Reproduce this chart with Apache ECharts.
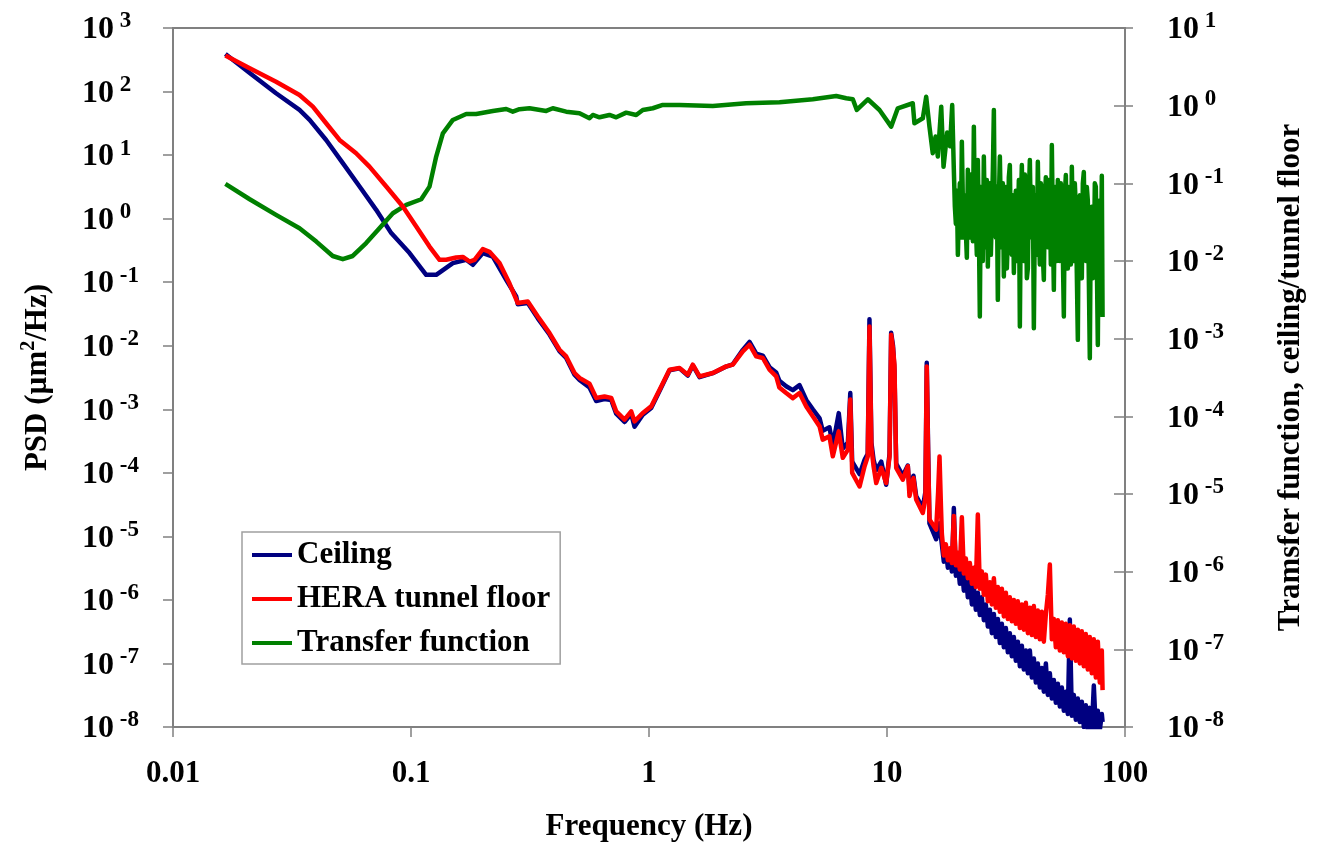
<!DOCTYPE html>
<html><head><meta charset="utf-8">
<script src="https://cdn.jsdelivr.net/npm/echarts@6/dist/echarts.min.js"></script>
<style>html,body{margin:0;padding:0;background:#fff}#c{width:1320px;height:843px}</style>
</head><body><div id="c"></div>
<script>
// ---------- DATA ----------
const ceilingFreq = [0.0166,0.0210,0.0271,0.0340,0.0375,0.0440,0.0517,0.0608,0.0714,0.0826,0.0986,0.1158,0.1276,0.1499,0.1706,0.1819,0.2003,0.2207,0.2512,0.2767,0.2810,0.3096,0.3411,0.3819,0.4206,0.4488,0.4864,0.5105,0.5623,0.5999,0.6501,0.6937,0.7281,0.7891,0.8419,0.8692,0.9417,1.0214,1.1254,1.2195,1.3433,1.4555,1.5276,1.6302,1.8537,2.1105,2.2494,2.4784,2.6446,2.8214,3.0079,3.2090,3.4237,3.53,3.77,4.02,4.29,4.58,4.88,5.21,5.37,5.73,5.92,6.27,6.52,6.85,7.01,7.14,7.67,8.05,8.30,8.44,8.60,8.78,9.01,9.46,9.92,10.25,10.41,10.60,10.75,10.93,11.65,12.23,12.43,12.92,13.26,14.14,14.50,14.69,14.90,15.08,16.09,16.62,
  17.0,17.33,17.67,18.02,18.37,18.73,19.09,19.47,19.85,20.23,20.63,21.03,21.44,21.86,22.29,22.73,23.17,23.62,24.08,24.55,25.03,25.52,26.02,26.53,27.05,27.58,28.12,28.66,29.22,29.80,30.38,30.97,31.58,32.19,32.82,33.46,34.12,34.78,35.46,36.16,36.86,37.58,38.32,39.07,39.83,40.61,41.40,42.21,43.03,43.87,44.73,45.60,46.50,47.40,48.33,49.27,50.24,51.22,52.22,53.24,54.28,55.34,56.42,57.52,58.64,59.79,60.95,62.14,63.36,64.60,65.86,67.14,68.46,69.79,71.15,72.54,73.96,75.41,76.88,78.38,79.91,80.5];
const ceilingPsd = [390,196,94,51.4,35.8,17.3,7.46,3.20,1.375,0.592,0.287,0.1307,0.1307,0.1997,0.225,0.1877,0.287,0.2535,0.109,0.0596,0.045,0.047,0.027,0.0150,0.0082,0.0064,0.0035,0.0029,0.0022,0.00135,0.00145,0.00140,8.5e-4,6.3e-4,8.5e-4,5.3e-4,8.2e-4,1.05e-3,2.2e-3,4.1e-3,4.4e-3,3.4e-3,4.9e-3,3.2e-3,3.7e-3,4.7e-3,5.1e-3,8.6e-3,1.15e-2,7.5e-3,7.0e-3,4.6e-3,3.8e-3,2.8e-3,2.3e-3,2.0e-3,2.4e-3,1.4e-3,1.0e-3,7.2e-4,4.6e-4,5.2e-4,2.7e-4,8.7e-4,2.4e-4,3.0e-4,1.8e-3,1.5e-4,9.5e-5,1.6e-4,2.0e-4,2.6e-2,3.0e-4,1.6e-4,1.1e-4,1.5e-4,6.5e-5,2.0e-4,1.6e-2,1.0e-2,4.0e-3,1.4e-4,9.0e-5,1.3e-4,5.5e-5,9.0e-5,4.3e-5,2.8e-5,5.0e-5,5.4e-3,2.0e-4,1.6e-5,9.0e-6,1.6e-5,
  7.5e-6,4.0e-6,6.0e-6,3.2e-6,5.5e-6,2.8e-6,2.8e-5,2.4e-6,3.8e-6,1.8e-6,3.2e-6,1.4e-6,2.6e-6,1.1e-6,2.0e-6,8.5e-7,1.6e-6,7.0e-7,1.3e-6,5.8e-7,1.1e-6,4.8e-7,8.5e-7,3.8e-7,7.0e-7,3.0e-7,6.0e-7,2.6e-7,5.0e-7,2.1e-7,4.2e-7,1.8e-7,3.6e-7,1.5e-7,3.0e-7,1.3e-7,2.6e-7,1.1e-7,2.2e-7,9.0e-8,1.9e-7,8.0e-8,1.6e-7,7.0e-8,1.6e-7,6.0e-8,1.2e-7,5.0e-8,1.0e-7,4.2e-8,8.5e-8,3.6e-8,1.0e-7,3.2e-8,7.0e-8,2.8e-8,5.5e-8,2.4e-8,4.8e-8,2.1e-8,4.2e-8,1.8e-8,3.6e-8,1.6e-8,4.9e-7,1.5e-8,3.2e-8,1.3e-8,2.8e-8,1.2e-8,2.5e-8,1.0e-8,2.2e-8,9.0e-9,2.0e-8,9.0e-9,4.5e-8,9.0e-9,1.8e-8,9.0e-9,1.6e-8,1.2e-8];

const floorFreq = [0.0166,0.0210,0.0271,0.0340,0.0387,0.0440,0.0501,0.0588,0.0669,0.0787,0.0924,0.1052,0.1196,0.1318,0.1406,0.1548,0.1651,0.1762,0.1849,0.2003,0.2137,0.2354,0.2594,0.2810,0.3096,0.3411,0.3819,0.4206,0.4488,0.4864,0.5105,0.5623,0.5999,0.6501,0.6937,0.7281,0.7891,0.8419,0.8692,0.9417,1.0214,1.1254,1.2195,1.3433,1.4555,1.5276,1.6302,1.8537,2.1105,2.2494,2.4784,2.6446,2.8214,3.0079,3.2090,3.4237,3.53,3.77,4.02,4.29,4.58,4.88,5.21,5.37,5.73,5.92,6.27,6.52,6.85,7.01,7.14,7.67,8.05,8.30,8.44,8.60,8.78,9.01,9.46,9.92,10.25,10.41,10.60,10.75,10.93,11.65,12.23,12.43,12.92,13.26,14.14,14.50,14.69,14.90,15.08,16.09,16.40,16.62,16.85,
  17.0,17.33,17.67,18.02,18.37,18.73,19.09,19.47,19.85,20.23,20.63,21.03,21.44,21.86,22.29,22.73,23.17,23.62,24.08,24.55,25.03,25.52,26.02,26.53,27.05,27.58,28.12,28.66,29.22,29.80,30.38,30.97,31.58,32.19,32.82,33.46,34.12,34.78,35.46,36.16,36.86,37.58,38.32,39.07,39.83,40.61,41.40,42.21,43.03,43.87,44.73,45.60,46.50,47.40,48.33,49.27,50.24,51.22,52.22,53.24,54.28,55.34,56.42,57.52,58.64,59.79,60.95,62.14,63.36,64.60,65.86,67.14,68.46,69.79,71.15,72.54,73.96,75.41,76.88,78.38,79.91,80.5];
const floorPsd = [370,232,143,88.4,57.9,31.7,17.3,10.7,6.59,3.20,1.55,0.751,0.364,0.225,0.225,0.245,0.25,0.2115,0.225,0.331,0.30,0.20,0.095,0.0469,0.0497,0.0289,0.01584,0.00865,0.00679,0.00372,0.00311,0.00253,0.00151,0.00159,0.00151,9.27e-4,6.86e-4,9.27e-4,6.45e-4,8.75e-4,1.11e-3,2.29e-3,4.19e-3,4.46e-3,3.50e-3,5.03e-3,3.29e-3,3.72e-3,4.73e-3,5.03e-3,8.14e-3,1.037e-2,6.79e-3,6.41e-3,4.19e-3,3.29e-3,2.2e-3,1.8e-3,1.5e-3,1.8e-3,1.11e-3,7.73e-4,5.38e-4,3.33e-4,3.75e-4,1.82e-4,4.49e-4,1.72e-4,2.32e-4,1.42e-3,1.0e-4,6.1e-5,1.27e-4,1.8e-4,2.0e-2,2.5e-4,1.27e-4,6.9e-5,1.2e-4,6.9e-5,1.8e-4,1.49e-2,9.0e-3,5.0e-3,1.2e-4,7.8e-5,1.27e-4,4.3e-5,8.3e-5,3.79e-5,2.34e-5,4.0e-5,4.7e-3,1.5e-4,1.84e-5,1.28e-5,5.0e-5,1.8e-4,3.0e-5,
  1.1e-5,5.0e-6,7.5e-6,4.2e-6,6.5e-6,3.8e-6,2.1e-5,3.5e-6,5.5e-6,3.0e-6,2.0e-5,2.6e-6,4.5e-6,2.2e-6,3.8e-6,1.8e-6,3.2e-6,1.6e-6,2.2e-5,1.5e-6,2.8e-6,1.2e-6,2.5e-6,9.5e-7,1.9e-6,8.5e-7,2.2e-6,7.5e-7,1.6e-6,6.5e-7,1.5e-6,5.5e-7,1.3e-6,5.0e-7,1.1e-6,4.6e-7,1.0e-6,4.2e-7,9.5e-7,3.6e-7,8.5e-7,3.4e-7,9.0e-7,3.0e-7,7.5e-7,2.8e-7,8.0e-7,2.6e-7,6.8e-7,2.4e-7,6.5e-7,2.2e-7,6.0e-7,1.2e-6,3.6e-6,2.4e-7,5.0e-7,1.8e-7,4.8e-7,1.6e-7,4.4e-7,1.5e-7,4.2e-7,1.3e-7,4.0e-7,1.2e-7,3.8e-7,1.1e-7,3.4e-7,1.0e-7,3.2e-7,9.0e-8,2.9e-7,8.0e-8,2.6e-7,7.0e-8,2.4e-7,6.0e-8,2.2e-7,5.0e-8,1.6e-7,3.8e-8];

const transferFreq = [0.0166,0.0210,0.0271,0.0340,0.0400,0.0469,0.0517,0.0569,0.0648,0.0737,0.0839,0.0955,0.1104,0.1196,0.1276,0.1361,0.1499,0.1706,0.1879,0.2207,0.2512,0.2678,0.2857,0.3147,0.3700,0.3942,0.4488,0.5105,0.5623,0.5806,0.6194,0.6823,0.7281,0.8021,0.8836,0.9417,1.0375,1.1429,1.3433,1.8537,2.5612,3.5344,4.8792,6.1188,6.7400,7.1844,7.4669,8.31,9.30,10.41,11.10,12.83,13.04,
  14.14,14.61,15.08,15.57,16.0,16.35,16.90,17.28,17.9,18.4,18.79,
  19.09,19.28,19.47,19.66,19.85,20.04,20.23,20.43,20.63,20.83,21.03,21.23,21.44,21.65,21.86,22.07,22.29,22.51,22.73,22.95,
  23.17,23.39,23.62,23.85,24.08,24.31,24.55,24.79,25.03,25.27,25.52,25.77,26.02,26.27,26.53,26.79,27.05,27.31,27.58,27.85,
  28.12,28.39,28.66,28.94,29.22,29.51,29.80,30.09,30.38,30.67,30.97,31.27,31.58,31.88,32.19,32.50,32.82,33.14,33.46,33.79,
  34.12,34.45,34.78,35.12,35.46,35.81,36.16,36.51,36.86,37.22,37.58,37.95,38.32,38.69,39.07,39.45,39.83,40.22,40.61,41.00,
  41.40,41.80,42.21,42.62,43.03,43.45,43.87,44.30,44.73,45.16,45.60,46.05,46.50,46.95,47.40,47.86,48.33,48.80,49.27,49.75,
  50.24,50.73,51.22,51.72,52.22,52.73,53.24,53.76,54.28,54.81,55.34,55.88,56.42,56.97,57.52,58.08,58.64,59.21,59.79,60.37,
  60.95,61.54,62.14,62.74,63.36,63.97,64.60,65.22,65.86,66.50,67.14,67.80,68.46,69.12,69.79,70.47,71.15,71.84,72.54,73.25,
  73.96,74.68,75.41,76.14,76.88,77.63,78.38,79.14,79.91,80.5];
const transferVal = [0.0983,0.0624,0.0392,0.0264,0.01777,0.0116,0.01055,0.0116,0.0170,0.0264,0.0412,0.0527,0.0624,0.0907,0.221,0.441,0.655,0.782,0.782,0.855,0.907,0.837,0.90,0.926,0.855,0.926,0.837,0.798,0.688,0.759,0.709,0.759,0.709,0.813,0.759,0.880,0.926,1.021,1.02,0.991,1.074,1.106,1.209,1.333,1.245,1.209,0.880,1.209,0.880,0.537,0.926,1.074,0.594,
  0.688,1.30,0.537,0.244,0.40,0.221,0.97,0.163,0.45,0.30,1.02,
  0.15,0.05,0.03,0.08,0.012,0.04,0.10,0.02,0.344,0.06,0.02,0.07,0.025,0.011,0.15,0.04,0.02,0.13,0.10,0.018,
  0.537,0.05,0.03,0.012,0.20,0.03,0.00193,0.09,0.06,0.01,0.221,0.035,0.015,0.11,0.00847,0.05,0.10,0.012,0.04,0.15,
  0.88,0.03,0.02,0.09,0.00316,0.06,0.221,0.04,0.015,0.1,0.0063,0.05,0.09,0.008,0.02,0.12,0.1725,0.02,0.012,0.07,
  0.007,0.045,0.08,0.01,0.03,0.11,0.00143,0.05,0.1725,0.025,0.01,0.13,0.09,0.006,0.008,0.07,0.20,0.03,0.02,0.09,
  0.00136,0.04,0.07,0.012,0.19,0.03,0.009,0.1,0.08,0.012,0.0057,0.06,0.12,0.02,0.015,0.11,0.06,0.009,0.312,0.03,
  0.00425,0.08,0.09,0.01,0.1106,0.025,0.01,0.1,0.06,0.012,0.00193,0.07,0.128,0.02,0.008,0.09,0.08,0.009,0.163,0.03,
  0.01,0.1,0.05,0.007,9.65e-4,0.06,0.07,0.008,0.006,0.1,0.14,0.02,0.01,0.09,0.06,0.006,5.6e-4,0.04,0.05,0.006,
  0.008,0.1,0.0907,0.01,8.3e-4,0.05,0.06,0.008,0.125,0.0019];

const xTickLabels = ['0.01','0.1','1','10','100'];
const seriesNames = ['Ceiling','HERA tunnel floor','Transfer function'];
const seriesColors = ['#000080','#FF0000','#008000'];

// ---------- CHART ----------
const FONT = '"Liberation Serif","Times New Roman",serif';
const zip = (a,b) => a.map((v,i)=>[v,b[i]]);
const expOf = v => Math.round(Math.log10(v));
const supFmt = v => '{b|10}{s| ' + expOf(v) + '}';
const rich = {
  b:{fontSize:32,fontWeight:'bold',fontFamily:FONT,color:'#000',lineHeight:36,verticalAlign:'bottom'},
  s:{fontSize:23,fontWeight:'bold',fontFamily:FONT,color:'#000',lineHeight:22,verticalAlign:'top'}
};
const gray = '#808080';
const LW = 4.5;
const chart = echarts.init(document.getElementById('c'), null, {renderer:'canvas'});
chart.setOption({
  animation:false,
  backgroundColor:'#fff',
  grid:{left:173,right:195,top:28,bottom:116,show:true,borderColor:gray,borderWidth:2,backgroundColor:'transparent',
    containLabel:false, outerBoundsMode:'none'},
  legend:{
    left:242, top:532, orient:'vertical', icon:'rect', itemWidth:40, itemHeight:4, itemGap:10,
    padding:[6,10,4,10], borderColor:'#a0a0a0', borderWidth:1.5, backgroundColor:'#fff',
    textStyle:{fontFamily:FONT,fontWeight:'bold',fontSize:31,color:'#000',lineHeight:34},
    data:seriesNames, selectedMode:false
  },
  xAxis:{
    type:'log', logBase:10, min:0.01, max:100, interval:1,
    name:'Frequency (Hz)', nameLocation:'middle', nameGap:84,
    nameTextStyle:{fontFamily:FONT,fontWeight:'bold',fontSize:31,color:'#000'},
    axisLine:{lineStyle:{color:gray,width:2}},
    axisTick:{show:true,inside:false,length:10,lineStyle:{color:gray,width:1.5}},
    axisLabel:{margin:31,fontFamily:FONT,fontWeight:'bold',fontSize:31,color:'#000',
      formatter:v=>xTickLabels[expOf(v)+2]},
    splitLine:{show:false}, minorTick:{show:false}
  },
  yAxis:[{
    type:'log', logBase:10, min:1e-8, max:1e3, interval:1, position:'left',
    name:'{a|PSD (µm}{t|2}{a|/Hz)}', nameLocation:'middle', nameGap:120, nameRotate:90,
    nameTextStyle:{rich:{
      a:{fontFamily:FONT,fontWeight:'bold',fontSize:31,color:'#000',lineHeight:34,verticalAlign:'bottom'},
      t:{fontFamily:FONT,fontWeight:'bold',fontSize:20,color:'#000',lineHeight:20,verticalAlign:'top'}}},
    axisLine:{show:true,lineStyle:{color:gray,width:2}},
    axisTick:{show:true,inside:false,length:10,lineStyle:{color:gray,width:1.5}},
    axisLabel:{align:'left',margin:91,formatter:supFmt,rich:rich},
    splitLine:{show:false}
  },{
    type:'log', logBase:10, min:1e-8, max:1e1, interval:1, position:'right',
    name:'Tramsfer function, ceiling/tunnel floor', nameLocation:'middle', nameGap:150, nameRotate:90,
    nameTextStyle:{fontFamily:FONT,fontWeight:'bold',fontSize:31,color:'#000'},
    axisLine:{show:true,lineStyle:{color:gray,width:2}},
    axisTick:{show:true,inside:false,length:8,lineStyle:{color:gray,width:1.5}},
    axisLabel:{align:'left',margin:42,formatter:supFmt,rich:rich},
    splitLine:{show:false}
  },{
    type:'log', logBase:10, min:1e-8, max:1e1, interval:1, position:'right',
    axisLine:{show:false},
    axisTick:{show:true,inside:true,length:11,lineStyle:{color:gray,width:1.5}},
    axisLabel:{show:false}, splitLine:{show:false}
  }],
  series:[
    {name:seriesNames[0],type:'line',yAxisIndex:0,data:zip(ceilingFreq,ceilingPsd),showSymbol:false,
      lineStyle:{color:seriesColors[0],width:LW,join:'round'},itemStyle:{color:seriesColors[0]},z:2,silent:true},
    {name:seriesNames[2],type:'line',yAxisIndex:1,data:zip(transferFreq,transferVal),showSymbol:false,
      lineStyle:{color:seriesColors[2],width:LW,join:'round'},itemStyle:{color:seriesColors[2]},z:3,silent:true},
    {name:seriesNames[1],type:'line',yAxisIndex:0,data:zip(floorFreq,floorPsd),showSymbol:false,
      lineStyle:{color:seriesColors[1],width:LW,join:'round'},itemStyle:{color:seriesColors[1]},z:4,silent:true}
  ]
});
</script></body></html>
